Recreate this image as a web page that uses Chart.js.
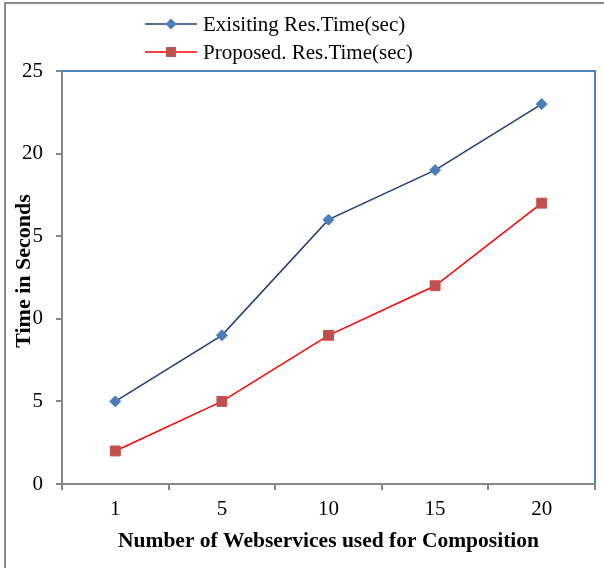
<!DOCTYPE html>
<html>
<head>
<meta charset="utf-8">
<script src="https://cdn.jsdelivr.net/npm/chart.js@4"></script>
<style>
  html, body { margin: 0; padding: 0; background: #fff; }
  #wrap { width: 604px; height: 568px; }
</style>
</head>
<body>
<div id="wrap"><canvas id="chart" width="604" height="568"></canvas></div>
<script>
// data
const categories = ['1', '5', '10', '15', '20'];
const existingTimes = [5, 9, 16, 19, 23];
const proposedTimes = [2, 5, 9, 12, 17];
const seriesNames = ['Exisiting Res.Time(sec)', 'Proposed. Res.Time(sec)'];
const yTicks = [0, 5, 10, 15, 20, 25];

const serif = "'Liberation Serif', 'Times New Roman', serif";
const axisGray = '#868686';

// small helper for legend markers
function drawMarker(ctx, style, x, y, r, color) {
    ctx.save();
    ctx.fillStyle = color;
    ctx.beginPath();
    if (style === 'rectRot') {
        ctx.moveTo(x, y - r);
        ctx.lineTo(x + r, y);
        ctx.lineTo(x, y + r);
        ctx.lineTo(x - r, y);
    } else {
        const s = Math.SQRT1_2 * r;
        ctx.rect(x - s, y - s, 2 * s, 2 * s);
    }
    ctx.closePath();
    ctx.fill();
    ctx.restore();
}

// frame, blue top/right border of the plot, legend and y title
const decorations = {
    id: 'decorations',
    beforeDraw(chart) {
        const ctx = chart.ctx;
        ctx.save();
        ctx.strokeStyle = '#8c8c8c';
        ctx.lineWidth = 2;
        ctx.beginPath();
        ctx.moveTo(5, 568);
        ctx.lineTo(5, 3);
        ctx.lineTo(604, 3);
        ctx.stroke();
        ctx.restore();
    },
    beforeDatasetsDraw(chart) {
        const {ctx, chartArea: a} = chart;
        ctx.save();
        ctx.strokeStyle = '#4F81BD';
        ctx.lineWidth = 2;
        ctx.beginPath();
        ctx.moveTo(a.left, a.top);
        ctx.lineTo(a.right, a.top);
        ctx.lineTo(a.right, a.bottom);
        ctx.stroke();
        ctx.restore();
    },
    afterDraw(chart) {
        const {ctx} = chart;
        // legend
        ctx.save();
        ctx.font = '21px ' + serif;
        ctx.textBaseline = 'middle';
        ctx.textAlign = 'left';
        chart.data.datasets.forEach((ds, i) => {
            const y = 24 + i * 28;
            ctx.strokeStyle = ds.borderColor;
            ctx.lineWidth = ds.borderWidth;
            ctx.beginPath();
            ctx.moveTo(145, y);
            ctx.lineTo(197, y);
            ctx.stroke();
            drawMarker(ctx, ds.pointStyle, 171, y, ds.pointRadius, ds.pointBackgroundColor);
            ctx.fillStyle = '#000';
            ctx.fillText(ds.label, 203, y + 1);
        });
        ctx.restore();

        // y axis title, boxed in white like the original
        ctx.save();
        ctx.font = 'bold 22px ' + serif;
        const text = 'Time in Seconds';
        const w = ctx.measureText(text).width;
        ctx.translate(24, 271);
        ctx.rotate(-Math.PI / 2);
        ctx.fillStyle = '#fff';
        ctx.fillRect(-w / 2 - 2, -10, w + 4, 17);
        ctx.fillStyle = '#000';
        ctx.textAlign = 'center';
        ctx.textBaseline = 'middle';
        ctx.fillText(text, 0, 0);
        ctx.restore();
    }
};

new Chart(document.getElementById('chart'), {
    type: 'line',
    data: {
        labels: categories,
        datasets: [{
            label: seriesNames[0],
            data: existingTimes,
            borderColor: '#1F3D7A',
            borderWidth: 1.5,
            pointStyle: 'rectRot',
            pointRadius: 5.5,
            pointBackgroundColor: '#4A7EBB',
            pointBorderColor: '#4A7EBB',
            pointBorderWidth: 1,
            tension: 0
        }, {
            label: seriesNames[1],
            data: proposedTimes,
            borderColor: '#FF0000',
            borderWidth: 1.5,
            pointStyle: 'rect',
            pointRadius: 7,
            pointBackgroundColor: '#C0504D',
            pointBorderColor: '#C0504D',
            pointBorderWidth: 1,
            tension: 0
        }]
    },
    options: {
        responsive: false,
        animation: false,
        devicePixelRatio: 1,
        layout: { padding: { top: 71, right: 9, left: 0, bottom: 0 } },
        plugins: {
            legend: { display: false },
            tooltip: { enabled: false }
        },
        scales: {
            x: {
                offset: true,
                grid: {
                    offset: true,
                    drawOnChartArea: false,
                    drawTicks: true,
                    tickLength: 6,
                    color: axisGray,
                    lineWidth: 2
                },
                border: { color: axisGray, width: 2 },
                ticks: {
                    color: '#000',
                    padding: 7,
                    font: { family: serif, size: 21 }
                },
                title: {
                    display: true,
                    text: 'Number of Webservices used for Composition',
                    color: '#000',
                    font: { family: serif, size: 21.5, weight: 'bold' },
                    padding: { top: 0, bottom: 14 }
                },
                afterFit(scale) { scale.height = 84; }
            },
            y: {
                min: 0,
                max: 25,
                afterBuildTicks(scale) {
                    scale.ticks = yTicks.map(v => ({ value: v }));
                },
                grid: {
                    drawOnChartArea: false,
                    drawTicks: true,
                    tickLength: 6,
                    color: axisGray,
                    lineWidth: 2
                },
                border: { color: axisGray, width: 2 },
                ticks: {
                    color: '#000',
                    padding: 13,
                    font: { family: serif, size: 21 }
                },
                afterFit(scale) { scale.width = 62; }
            }
        }
    },
    plugins: [decorations]
});
</script>
</body>
</html>
